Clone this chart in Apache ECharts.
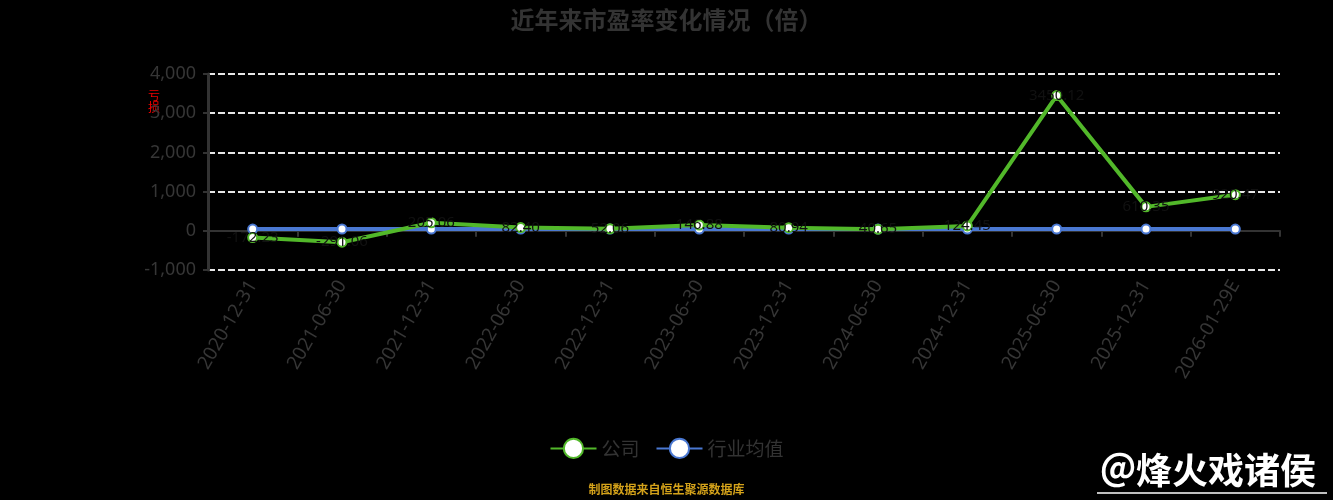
<!DOCTYPE html>
<html>
<head>
<meta charset="utf-8">
<script src="https://cdn.jsdelivr.net/npm/echarts@6/dist/echarts.min.js"></script>
<style>html,body{margin:0;padding:0;background:#000;}#c{width:1333px;height:500px;}</style>
</head>
<body>
<div id="c"></div>
<script>
const categories = ['2020-12-31','2021-06-30','2021-12-31','2022-06-30','2022-12-31','2023-06-30','2023-12-31','2024-06-30','2024-12-31','2025-06-30','2025-12-31','2026-01-29E'];
const companyPE = [-172.23, -291.06, 205.06, 82.40, 52.06, 146.88, 80.94, 40.65, 124.45, 3450.12, 610.35, 920.47];
const industryPE = [45, 46, 44, 45, 45, 46, 45, 44, 45, 46, 45, 45];
const yTicks = { min: -1000, max: 4000, interval: 1000 };
const titleText = '近年来市盈率变化情况（倍）';
const sourceText = '制图数据来自恒生聚源数据库';
const watermarkText = '＠烽火戏诸侯';

const chart = echarts.init(document.getElementById('c'));
chart.setOption({
  backgroundColor: '#000',
  animation: false,
  title: {
    text: titleText, left: 'center', top: 3,
    textStyle: { color: '#333', fontSize: 24, fontWeight: 'bold', fontFamily: 'Noto Sans CJK SC' }
  },
  legend: {
    bottom: 36, left: 'center', itemWidth: 46, itemHeight: 24, itemGap: 16,
    textStyle: { color: '#333', fontSize: 19, fontFamily: 'Noto Sans CJK SC' },
    data: ['公司', '行业均值']
  },
  grid: { left: 208, right: 53, top: 74, bottom: 230 },
  xAxis: {
    type: 'category', data: categories, boundaryGap: true,
    axisLine: { onZero: true, lineStyle: { color: '#333', width: 2 } },
    axisTick: { show: true, length: 6, lineStyle: { color: '#333', width: 2 } },
    axisLabel: { interval: 0, rotate: 60, color: '#363636', fontSize: 19, margin: 12, fontFamily: 'Noto Sans' }
  },
  yAxis: {
    type: 'value', min: yTicks.min, max: yTicks.max, interval: yTicks.interval,
    axisLine: { show: true, lineStyle: { color: '#333', width: 3 } },
    axisTick: { show: true, length: 5, lineStyle: { color: '#333', width: 2 } },
    axisLabel: { color: '#363636', fontSize: 18, margin: 12, fontFamily: 'Noto Sans',
      formatter: v => v.toLocaleString('en-US') },
    splitLine: { show: true, lineStyle: { color: '#e6e6e6', width: 2, type: [7, 3] } }
  },
  series: [
    {
      name: '公司', type: 'line', data: companyPE,
      symbol: 'circle', symbolSize: 9,
      itemStyle: { color: '#fff', borderColor: '#52b82a', borderWidth: 2 },
      lineStyle: { color: '#52b82a', width: 4 },
      label: { show: true, position: 'inside', color: '#111', fontSize: 15, fontFamily: 'Noto Sans',
        formatter: p => p.value.toFixed(2) },
      z: 3
    },
    {
      name: '行业均值', type: 'line', data: industryPE,
      symbol: 'circle', symbolSize: 9,
      itemStyle: { color: '#fff', borderColor: '#4a78d2', borderWidth: 2 },
      lineStyle: { color: '#4a78d2', width: 4 },
      z: 2
    }
  ],
  graphic: [
    { type: 'text', left: 'center', top: 483,
      style: { text: sourceText, fill: '#d4a21a', fontSize: 12, fontWeight: 'bold', fontFamily: 'Noto Sans CJK SC' } },
    { type: 'text', left: 148, top: 89,
      style: { text: '亏\n损', fill: '#e00', fontSize: 12, lineHeight: 12, fontFamily: 'Noto Sans CJK SC' } },
    { type: 'text', left: 1100, top: 452,
      style: { text: watermarkText, fill: '#fff', fontSize: 36, fontWeight: 'bold', fontFamily: 'Noto Sans CJK SC' } },
    { type: 'line', shape: { x1: 1097, y1: 493, x2: 1327, y2: 493 },
      style: { stroke: '#fff', lineWidth: 1.5 } }
  ]
});
</script>
</body>
</html>
